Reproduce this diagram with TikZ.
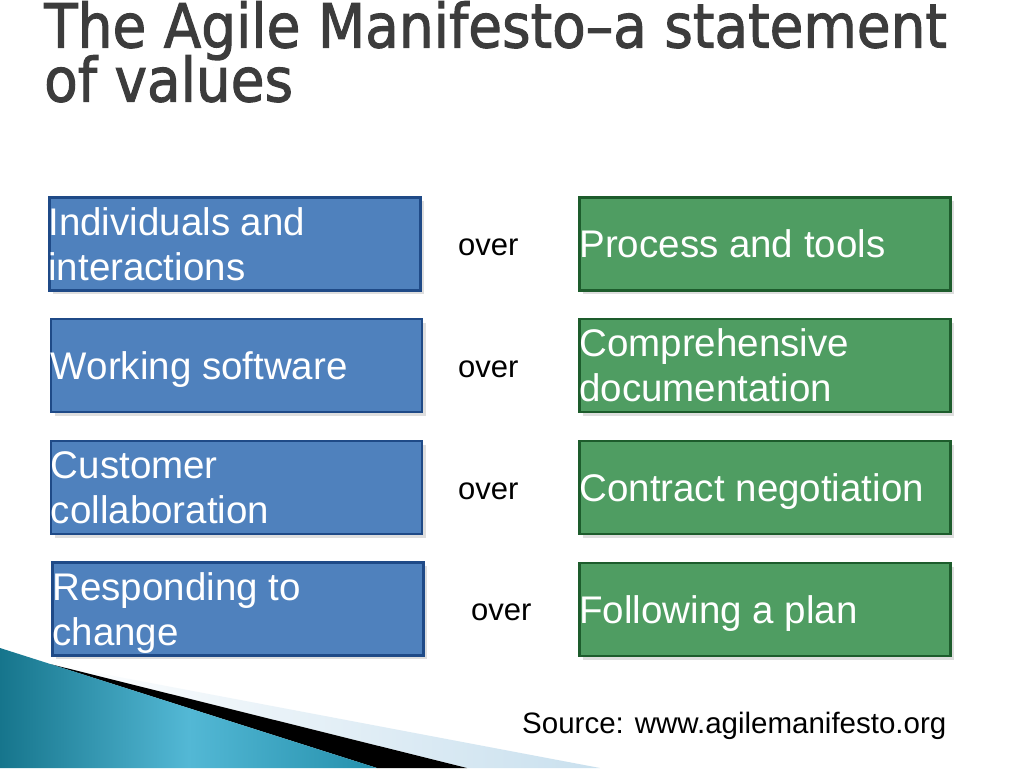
\documentclass[tikz,border=0pt]{standalone}
\usepackage{fontspec}
\setmainfont{Liberation Sans}
\newfontfamily\titlefont[FakeStretch=0.9,FakeBold=1.6]{DejaVu Sans}
\usetikzlibrary{shadows}
\definecolor{boxblue}{HTML}{4F81BD}
\definecolor{boxblueedge}{HTML}{1F4A87}
\definecolor{boxgreen}{HTML}{4F9D62}
\definecolor{boxgreenedge}{HTML}{1D5C2C}
\definecolor{titlegray}{HTML}{3C3C3C}
\definecolor{tealdark}{HTML}{16758C}
\definecolor{teallight}{HTML}{53B8D5}
\definecolor{tealmid}{HTML}{2590AC}
\definecolor{paleblue}{HTML}{C9E0EE}
\newcommand{\nodepth}[1]{\raisebox{0pt}[\height][0pt]{#1}}
\newcommand{\titlestyle}{\titlefont\fontsize{61}{50}\selectfont\lineskiplimit=-100pt\relax}
\begin{document}
\begin{tikzpicture}[x=1pt,y=-1pt,
  valbox/.style={rectangle, line width=2.5pt, minimum width=371pt, minimum height=93pt, inner sep=0pt,
    drop shadow={shadow xshift=3.5pt, shadow yshift=-3.5pt, fill=black, opacity=.13}},
  bluebox/.style={valbox, fill=boxblue, draw=boxblueedge},
  greenbox/.style={valbox, fill=boxgreen, draw=boxgreenedge},
  boxtext/.style={font=\fontsize{38.5}{45}\selectfont, text=white, align=left, inner sep=0pt, anchor=west},
  overtext/.style={font=\fontsize{31}{36}\selectfont, text=black, inner sep=0pt, anchor=west},
]
\useasboundingbox (0,0) rectangle (1024,768);
\fill[white] (0,0) rectangle (1024,768);

% decoration bottom-left
\shade[left color=white, right color=paleblue] (50,664) -- (600,768) -- (467,768) -- cycle;
\fill[black] (50,664) -- (467,768) -- (377,768) -- cycle;
\shade[left color=tealdark, right color=tealmid, middle color=teallight] (0,648) -- (377,768) -- (0,768) -- cycle;

% title
\node[anchor=north west, inner sep=0pt, align=left, font=\titlestyle, text=titlegray] (title) at (44,1) {The Agile Manifesto–a statement\\[4pt]of values};

% boxes
\node[bluebox] (b1) at (235,244) {};
\node[bluebox] (b2) at (236.5,365.5) {};
\node[bluebox] (b3) at (236.5,487.5) {};
\node[bluebox] (b4) at (238,609) {};
\node[greenbox] (g1) at (765,244) {};
\node[greenbox] (g2) at (765,365.5) {};
\node[greenbox] (g3) at (765,487.5) {};
\node[greenbox] (g4) at (765,609.5) {};

\node[boxtext] (tb1) at ([xshift=0pt]b1.west) {Individuals and\\\nodepth{interactions}};
\node[boxtext] (tb2) at ([xshift=1pt]b2.west) {\nodepth{Working software}};
\node[boxtext] (tb3) at ([xshift=1pt]b3.west) {Customer\\\nodepth{collaboration}};
\node[boxtext] (tb4) at ([xshift=1pt]b4.west) {Responding to\\\nodepth{change}};
\node[boxtext] (tg1) at ([xshift=1pt]g1.west) {\nodepth{Process and tools}};
\node[boxtext] (tg2) at ([xshift=1pt]g2.west) {Comprehensive\\\nodepth{documentation}};
\node[boxtext] (tg3) at ([xshift=1pt]g3.west) {\nodepth{Contract negotiation}};
\node[boxtext] (tg4) at ([xshift=1pt]g4.west) {\nodepth{Following a plan}};

% over labels
\node[overtext] (o1) at (458,247.5) {over};
\node[overtext] (o2) at (458,369) {over};
\node[overtext] (o3) at (458,491) {over};
\node[overtext] (o4) at (471,612.5) {over};

% source
\node[anchor=base west, inner sep=0pt, font=\fontsize{29.5}{34}\selectfont] (src) at (522,733) {Source: www.agilemanifesto.org};
\end{tikzpicture}
\end{document}
